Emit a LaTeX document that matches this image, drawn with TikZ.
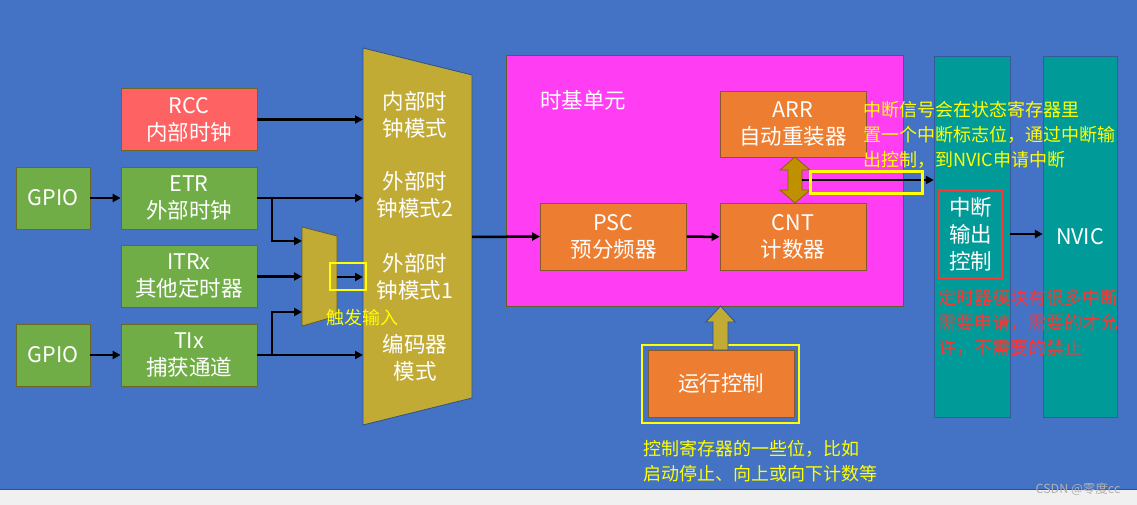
\documentclass[tikz,border=0pt]{standalone}
\usepackage{fontspec}
\setmainfont{Noto Sans CJK SC}
\usetikzlibrary{arrows.meta,positioning}

\definecolor{bgblue}{HTML}{4472C4}
\definecolor{stripgray}{HTML}{F0F0F0}
\definecolor{srcgreen}{HTML}{70AD47}
\definecolor{rccred}{HTML}{FF6262}
\definecolor{unitorange}{HTML}{ED7D31}
\definecolor{modegold}{HTML}{C1AB35}
\definecolor{dblgold}{HTML}{BF9000}
\definecolor{basepink}{HTML}{FF3EF4}
\definecolor{nvicteal}{HTML}{009B98}
\definecolor{notered}{HTML}{FF3434}
\definecolor{noteyellow}{HTML}{FFFF00}

\tikzset{
  srcbox/.style={draw=olive!70!black, line width=0.8pt, fill=srcgreen, text=white,
    minimum width=136pt, minimum height=62pt, inner sep=0pt, align=center,
    font=\fontsize{21.5}{27}\selectfont},
  unitbox/.style={srcbox, fill=unitorange, draw=brown!70!black,
    minimum width=146pt, minimum height=67pt},
  whitetext/.style={text=white, align=center, inner sep=0pt, font=\fontsize{21.5}{27}\selectfont},
  notetext/.style={align=left, inner sep=0pt, anchor=west, font=\fontsize{18}{25}\selectfont},
  hlbox/.style={draw=noteyellow, line width=2.5pt, inner sep=0pt},
  arr/.style={line width=2.5pt, -{Triangle[length=8pt,width=8pt]}},
}

\begin{document}
\begin{tikzpicture}[x=1pt, y=-1pt]
    \useasboundingbox (0,0) rectangle (1137,505);
    \fill[bgblue] (0,0) rectangle (1137,489);
    \fill[stripgray] (0,489) rectangle (1137,505);
    \draw[bgblue!70!black, line width=1pt] (0,489) -- (1137,489);

    % time base unit and the two right columns
    \node[draw=olive!60!black, line width=0.8pt, fill=basepink, minimum width=397pt,
        minimum height=251pt, inner sep=0pt] (base) at (704.5,180.5) {};
    \node[fill=nvicteal, draw=bgblue!80!black, minimum width=76pt, minimum height=361pt,
        inner sep=0pt] (col1) at (972,236.5) {};
    \node[fill=nvicteal, draw=bgblue!80!black, minimum width=74pt, minimum height=361pt,
        inner sep=0pt] (col2) at (1080,236.5) {};

    % mode selector and trigger mux
    \filldraw[fill=modegold, draw=bgblue!70!black, line width=0.8pt]
        (363,48) -- (472,75) -- (472,398) -- (363,425) -- cycle;
    \filldraw[fill=modegold, draw=olive!60!black, line width=0.8pt]
        (302,227) -- (337,236) -- (337,316) -- (302,326) -- cycle;
    \coordinate (modeL) at (363,0);
    \coordinate (modeO) at (472,237);
    \coordinate (muxL) at (302,0);
    \coordinate (muxA) at (302,241);
    \coordinate (muxC) at (302,312);
    \coordinate (muxO) at (337,277);
    \coordinate (jx) at (272,0);

    \node[whitetext] (modeA) at (415,115) {内部时\\钟模式};
    \node[whitetext] (modeB) at (415,195) {外部时\\钟模式2};
    \node[whitetext] (modeC) at (415,277) {外部时\\钟模式1};
    \node[whitetext] (modeD) at (415,358) {编码器\\模式};

    % clock sources
    \node[srcbox, fill=rccred] (rcc) at (189,119.5) {RCC\\内部时钟};
    \node[srcbox, minimum width=74pt] (gpioA) at (53,198) {GPIO};
    \node[srcbox] (etr) at (189,198) {ETR\\外部时钟};
    \node[srcbox] (itrx) at (189,276.5) {ITRx\\其他定时器};
    \node[srcbox, minimum width=74pt] (gpioB) at (53,355) {GPIO};
    \node[srcbox] (tix) at (189,355) {TIx\\捕获通道};

    \draw[arr] (rcc.east) -- (rcc.east -| modeL);
    \draw[arr] (gpioA) -- (etr);
    \draw[arr] (etr.east) -- (etr.east -| modeL);
    \draw[arr] (etr.east -| jx) |- (muxA);
    \draw[arr] (itrx.east) -- (itrx.east -| muxL);
    \draw[arr] (gpioB) -- (tix);
    \draw[arr] (tix.east) -- (tix.east -| modeL);
    \draw[arr] (tix.east -| jx) |- (muxC);
    \draw[arr] (muxO) -- (muxO -| modeL);
    \node[hlbox, minimum width=36pt, minimum height=27pt] (trighl) at (348,276.5) {};
    \node[notetext, anchor=center, text=noteyellow] (trig) at (362,318) {触发输入};

    % time base
    \node[whitetext, anchor=west] (basetitle) at (540,100) {时基单元};
    \node[unitbox] (psc) at (613.5,236.5) {PSC\\预分频器};
    \node[unitbox, minimum height=66pt] (arr) at (793,124) {ARR\\自动重装器};
    \node[unitbox] (cnt) at (793,237) {CNT\\计数器};
    \draw[arr] (modeO) -- (psc.west);
    \draw[arr] (psc) -- (cnt);

    \filldraw[fill=dblgold, draw=dblgold!70!black, line width=0.8pt]
        (795,157) -- (810,170) -- (802,170) -- (802,190) -- (810,190) -- (795,203)
        -- (780,190) -- (788,190) -- (788,170) -- (780,170) -- cycle;
    \coordinate (dblR) at (802,180);
    \draw[arr] (dblR) -- (dblR -| col1.west);
    \node[hlbox, minimum width=112pt, minimum height=22pt] (irqhl) at (866.5,182.5) {};

    \node[notetext, text=noteyellow] (irqnote) at (863,134.5)
        {中断信号会在状态寄存器里\\置一个中断标志位，通过中断输\\出控制，到NVIC申请中断};

    % interrupt output
    \node[whitetext, draw=notered, line width=2.5pt, minimum width=63pt,
        minimum height=88pt] (intctl) at (970.5,234) {中断\\输出\\控制};
    \node[whitetext] (nvic) at (1080,237) {NVIC};
    \draw[arr] (col1.east |- intctl) -- (col2.west |- intctl);
    \node[notetext, text=notered] (intnote) at (938,323)
        {定时器模块有很多中断\\需要申请，需要的才允\\许，不需要的禁止};

    % run control
    \node[hlbox, minimum width=157pt, minimum height=78pt] (runhl) at (720.5,384) {};
    \node[unitbox] (run) at (721,383.5) {运行控制};
    \filldraw[fill=modegold, draw=bgblue!70!black, line width=0.8pt]
        (713,350) -- (713,322) -- (706,322) -- (720.5,306) -- (735,322) -- (728,322)
        -- (728,350) -- cycle;
    \node[notetext, text=noteyellow] (runnote) at (643,461)
        {控制寄存器的一些位，比如\\启动停止、向上或向下计数等};

    \node[text=gray!60, inner sep=0pt, font=\fontsize{12.5}{14}\selectfont] (mark) at (1078,489) {CSDN @零度cc};
\end{tikzpicture}
\end{document}
